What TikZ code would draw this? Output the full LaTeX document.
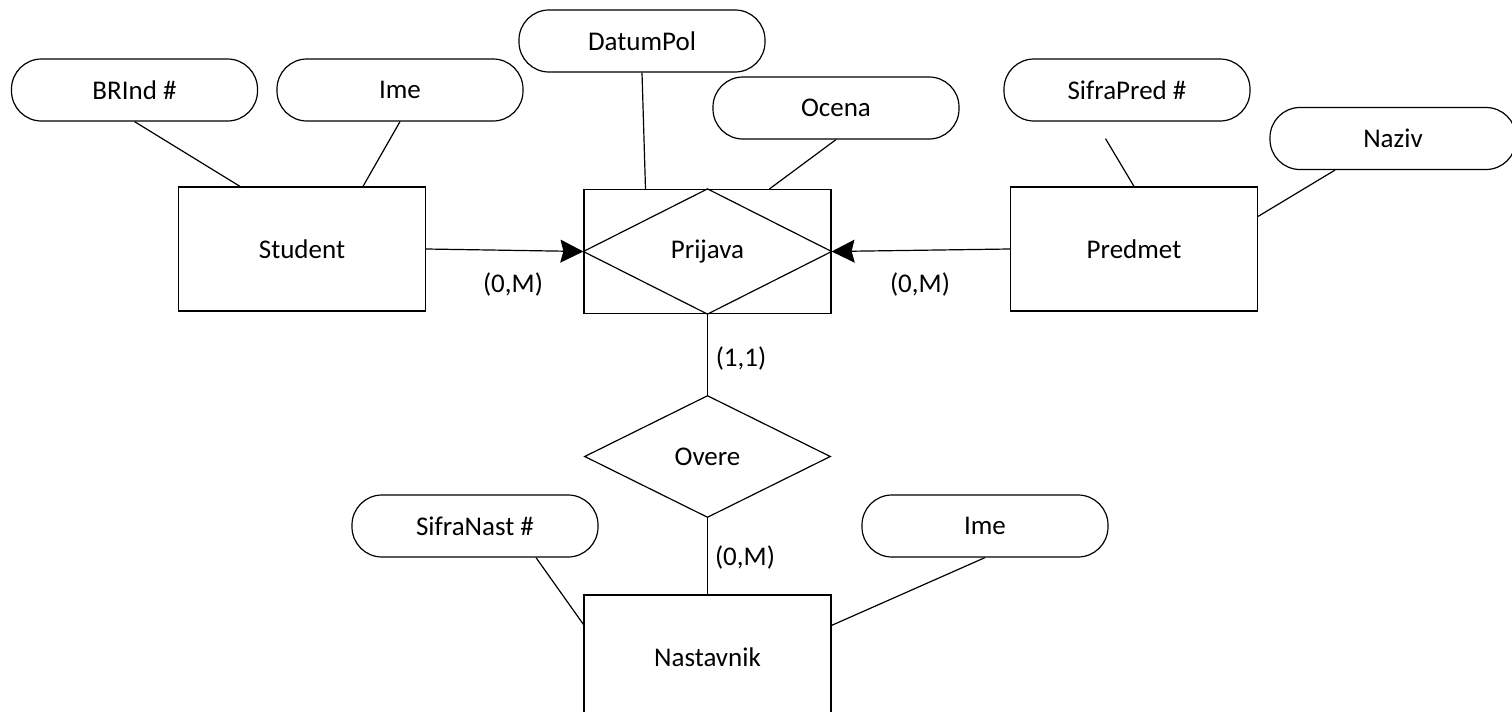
\documentclass[tikz,border=0pt]{standalone}
\usepackage{fontspec}
\setmainfont{Carlito}
\usetikzlibrary{shapes.geometric, arrows.meta, positioning}

\begin{document}
\begin{tikzpicture}[
    x=0.5pt, y=-0.5pt,
    every node/.style={font=\fontsize{13.5}{16}\selectfont},
    ent/.style={rectangle, draw, line width=0.6pt, minimum width=123.5pt, minimum height=62pt, inner sep=0pt},
    attr/.style={rectangle, draw, line width=0.6pt, rounded corners=15pt, minimum width=123pt, minimum height=31pt, inner sep=0pt},
    rel/.style={diamond, draw, line width=0.6pt, minimum width=123pt, minimum height=61pt, inner sep=0pt},
    lnk/.style={line width=0.6pt},
    arr/.style={lnk, -{Stealth[length=11.5pt, width=11.5pt, inset=1.5pt]}}
  ]
  \fill[white] (0,0) rectangle (1512,712);
  \useasboundingbox (0,0) rectangle (1512,712);

  \node[ent] (student) at (302,249) {Student};
  \node[ent] (prijava) at (707.5,251.5) {Prijava};
  \node[ent] (predmet) at (1134,249) {Predmet};
  \node[rel] (overe) at (707.5,456.5) {Overe};
  \node[ent] (nastavnik) at (707.5,657) {Nastavnik};
  \draw[lnk] (prijava.west) -- (prijava.north) -- (prijava.east) -- (prijava.south) -- cycle;

  \node[attr] (brind) at (134.5,90) {BRInd \#};
  \node[attr] (ime1) at (400,90) {Ime};
  \node[attr] (datum) at (642,41) {DatumPol};
  \node[attr] (ocena) at (836,108) {Ocena};
  \node[attr] (sifrapred) at (1127,90) {SifraPred \#};
  \node[attr] (naziv) at (1393,138.5) {Naziv};
  \node[attr] (sifranast) at (475,526) {SifraNast \#};
  \node[attr] (ime2) at (985,526) {Ime};

  \draw[lnk] (brind.south) -- ([xshift=-31pt]student.north);
  \draw[lnk] (ime1.south) -- ([xshift=30.5pt]student.north);
  \draw[lnk] (datum.south) -- ([xshift=-31pt]prijava.north);
  \draw[lnk] (ocena.south) -- ([xshift=31pt]prijava.north);
  \draw[lnk] ([xshift=-10.75pt, yshift=-8.5pt]sifrapred.south) -- (predmet.north);
  \draw[lnk] ([xshift=-29pt]naziv.south) -- ([yshift=-15pt]predmet.north east);
  \draw[lnk] ([xshift=30.5pt]sifranast.south) -- ([yshift=-15pt]nastavnik.north west);
  \draw[lnk] (ime2.south) -- ([yshift=-15.5pt]nastavnik.north east);

  \draw[arr] (student.east) -- (prijava.west);
  \draw[arr] (predmet.west) -- (prijava.east);
  \draw[lnk] (prijava.south) -- (overe.north);
  \draw[lnk] (overe.south) -- (nastavnik.north);

  \node (c1) at (513,284) {(0,M)};
  \node (c2) at (920,284) {(0,M)};
  \node (c3) at (741,358) {(1,1)};
  \node (c4) at (745,557) {(0,M)};
\end{tikzpicture}
\end{document}
